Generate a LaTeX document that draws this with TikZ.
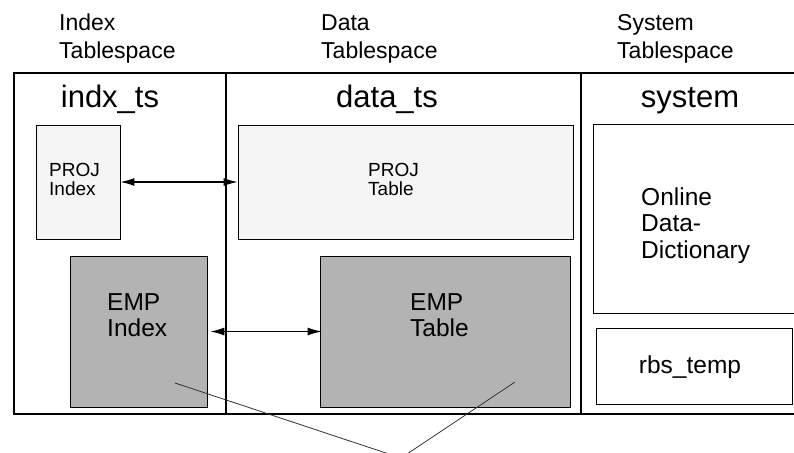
\documentclass[tikz,border=0pt]{standalone}
\usepackage{fontspec}
\setmainfont{Liberation Sans}
\usetikzlibrary{arrows.meta}
\definecolor{projfill}{HTML}{F5F5F5}
\definecolor{empfill}{HTML}{B3B3B3}
\definecolor{callout}{HTML}{333333}
\tikzset{
  frame/.style={line width=2.4pt},
  box/.style={draw, line width=0.9pt, inner sep=0pt, rectangle},
  projbox/.style={box, fill=projfill},
  empbox/.style={box, fill=empfill},
  plainbox/.style={box, fill=white},
  hdr/.style={anchor=base west, inner sep=0pt, font=\fontsize{23pt}{28pt}\selectfont},
  tsname/.style={anchor=base, inner sep=0pt, font=\fontsize{31pt}{36pt}\selectfont},
  small/.style={anchor=base west, inner sep=0pt, font=\fontsize{19pt}{22pt}\selectfont},
  big/.style={anchor=base west, inner sep=0pt, font=\fontsize{24.5pt}{28pt}\selectfont},
  biarrow/.style={line width=1.1pt, {Latex[length=14pt,width=8pt]}-{Latex[length=14pt,width=8pt]}},
  calloutline/.style={line width=0.8pt, draw=callout}
}
\begin{document}
\begin{tikzpicture}[x=1pt,y=-1pt]
\useasboundingbox (0,0) rectangle (794,452);
% headers
\node[hdr] (h1a) at (59,31) {Index};
\node[hdr] (h1b) at (59,59) {Tablespace};
\node[hdr] (h2a) at (321,31) {Data};
\node[hdr] (h2b) at (321,59) {Tablespace};
\node[hdr] (h3a) at (617,31) {System};
\node[hdr] (h3b) at (617,59) {Tablespace};
% frame
\draw[frame] (830,73) -- (14,73) -- (14,414) -- (830,414);
\draw[frame] (226,73) -- (226,414);
\draw[frame] (581,73) -- (581,414);
% tablespace names
\node[tsname] (n1) at (110,107) {indx\_ts};
\node[tsname] (n2) at (387,107) {data\_ts};
\node[tsname] (n3) at (690,107) {system};
% boxes
\node[projbox, minimum width=84pt, minimum height=114pt] (projidx) at (78,182) {};
\node[projbox, minimum width=335pt, minimum height=114pt] (projtab) at (405.5,182) {};
\node[empbox, minimum width=137pt, minimum height=151pt] (empidx) at (138.5,331.5) {};
\node[empbox, minimum width=250pt, minimum height=151pt] (emptab) at (445,331.5) {};
\node[plainbox, minimum width=227pt, minimum height=189pt] (dict) at (706.5,218.5) {};
\node[plainbox, minimum width=196pt, minimum height=76pt] (rbs) at (694,366) {};
% box texts
\node[small] (t1a) at (49,176) {PROJ};
\node[small] (t1b) at (49,195) {Index};
\node[small] (t2a) at (368,176) {PROJ};
\node[small] (t2b) at (368,195) {Table};
\node[big] (t3a) at (107,310) {EMP};
\node[big] (t3b) at (107,336) {Index};
\node[big] (t4a) at (410,310) {EMP};
\node[big] (t4b) at (410,336) {Table};
\node[big] (t5a) at (641,205) {Online};
\node[big] (t5b) at (641,231) {Data-};
\node[big] (t5c) at (641,258) {Dictionary};
\node[big, anchor=base] (t6) at (690,373) {rbs\_temp};
% arrows
\draw[biarrow] (projidx.east) -- (projtab.west);
\draw[biarrow, shorten <=3pt, shorten >=-2pt] (empidx.east) -- (emptab.west);
% callout lines
\coordinate (c1) at (175,383);
\coordinate (c2) at (515,382);
\coordinate (meet) at (401,458);
\draw[calloutline] (c1) -- (meet);
\draw[calloutline] (c2) -- (meet);
\end{tikzpicture}
\end{document}
